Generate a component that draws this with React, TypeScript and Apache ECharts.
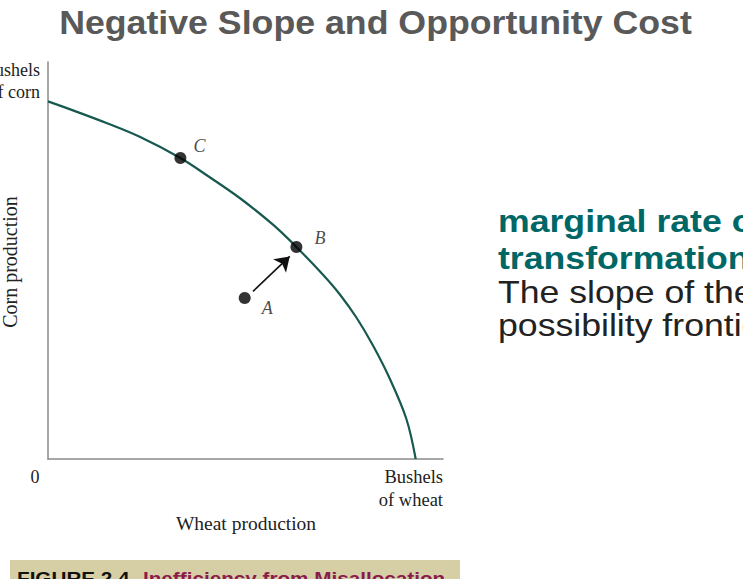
import React, { useEffect, useRef } from "react";
import * as echarts from "echarts";

// Production possibility frontier (arbitrary units)
const wheat = [0, 25, 58.4, 91.7, 132.4, 158.4, 191.7, 225, 248.4, 275, 291.7, 308.4, 325, 341.7, 358.4, 367.7];
const corn = [357.6, 348.6, 336, 322.2, 301, 284, 261, 234.3, 212, 184.3, 164.8, 141.5, 113.5, 80.5, 40, 0];

const pointNames = ["C", "B", "A"];
const pointWheat = [132.4, 248.4, 196.7];
const pointCorn = [301, 212, 161];

const arrowFrom = [205, 167.6];
const arrowTo = [241.7, 202.6];

const xMax = 395;
const yMax = 397;

const title = "Negative Slope and Opportunity Cost";
const termLines = ["marginal rate of", "transformation (MRT)"];
const defLines = ["The slope of the production", "possibility frontier (ppf)."];

const SANS = '"Liberation Sans", Arial, sans-serif';
const SERIF = '"Liberation Serif", "Times New Roman", serif';

export default function App() {
  const ref = useRef<HTMLDivElement>(null);

  useEffect(() => {
    if (!ref.current) return;
    const chart = echarts.init(ref.current, null, { renderer: "svg" });

    const labelOffsets: Record<string, number[]> = {
      C: [2, -12],
      B: [7, -9],
      A: [6, 10],
    };

    const sansText = (text: string, x: number, y: number, size: number, weight: string, fill: string, align = "left", sx = 1.15) => ({
      type: "text",
      x,
      y,
      scaleX: sx,
      style: {
        text,
        font: `${weight} ${size}px ${SANS}`,
        fill,
        textAlign: align,
        textVerticalAlign: "middle",
      },
    });

    const serifText = (text: string, x: number, y: number, size: number, align = "left", rotation = 0) => ({
      type: "text",
      x,
      y,
      rotation,
      style: {
        text,
        font: `${size}px ${SERIF}`,
        fill: "#222",
        textAlign: align,
        textVerticalAlign: "middle",
      },
    });

    chart.setOption({
      animation: false,
      backgroundColor: "#fff",
      grid: { left: 48, top: 62, width: xMax, height: yMax },
      xAxis: {
        type: "value",
        min: 0,
        max: xMax,
        axisLine: { show: true, lineStyle: { color: "#8a8a8a", width: 1.5 } },
        axisTick: { show: false },
        axisLabel: { show: false },
        splitLine: { show: false },
      },
      yAxis: {
        type: "value",
        min: 0,
        max: yMax,
        axisLine: { show: true, lineStyle: { color: "#8a8a8a", width: 1.5 } },
        axisTick: { show: false },
        axisLabel: { show: false },
        splitLine: { show: false },
      },
      series: [
        {
          type: "line",
          data: wheat.map((w, i) => [w, corn[i]]),
          smooth: 0.35,
          showSymbol: false,
          lineStyle: { color: "#17594f", width: 2.2 },
          z: 2,
        },
        {
          type: "lines",
          coordinateSystem: "cartesian2d",
          symbol: ["none", "arrow"],
          symbolSize: 14,
          lineStyle: { color: "#111", width: 1.6, opacity: 1 },
          data: [{ coords: [arrowFrom, arrowTo] }],
          z: 3,
        },
        {
          type: "scatter",
          symbolSize: 12,
          itemStyle: { color: "#000" },
          z: 4,
          data: pointNames.map((n, i) => ({
            name: n,
            value: [pointWheat[i], pointCorn[i]],
            label: {
              show: true,
              position: "right",
              offset: labelOffsets[n],
              formatter: "{b}",
              fontFamily: SERIF,
              fontStyle: "italic",
              fontSize: 18,
              color: "#1a1a1a",
            },
          })),
        },
      ],
      graphic: [
        sansText(title, 375.5, 22, 34, "bold", "#595959", "center", 1.05),
        sansText(termLines[0], 498, 221, 31, "bold", "#006767"),
        sansText(termLines[1], 498, 258, 31, "bold", "#006767"),
        sansText(defLines[0], 498, 292, 31, "normal", "#222"),
        sansText(defLines[1], 498, 325, 31, "normal", "#222"),
        serifText("Bushels", 40, 70, 18, "right"),
        serifText("of corn", 40, 92, 18, "right"),
        serifText("Corn production", 9.5, 262, 20, "center", Math.PI / 2),
        serifText("0", 35, 477, 18, "center"),
        serifText("Bushels", 443, 477, 18.5, "right"),
        serifText("of wheat", 443, 500, 18.5, "right"),
        serifText("Wheat production", 246, 523.4, 19.5, "center"),
        {
          type: "rect",
          shape: { x: 10, y: 560, width: 450, height: 30 },
          style: { fill: "#d6cfa6" },
        },
        sansText("FIGURE 2.4", 17, 578.3, 18, "bold", "#111"),
        sansText("Inefficiency from Misallocation", 143, 578.3, 18, "bold", "#8b1c4b"),
      ],
    });

    return () => chart.dispose();
  }, []);

  return (
    <div
      ref={ref}
      style={{ position: "fixed", left: 0, top: 0, width: 743, height: 579, background: "#fff" }}
    />
  );
}
